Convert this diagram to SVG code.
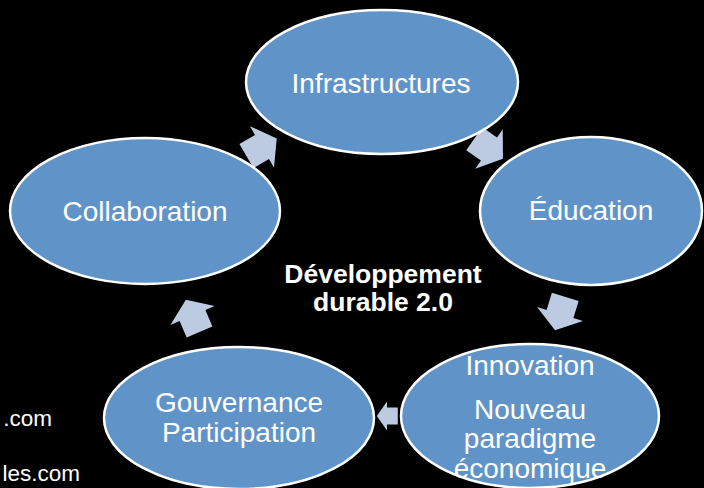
<svg xmlns="http://www.w3.org/2000/svg" width="704" height="488" viewBox="0 0 704 488">
<style>
.node ellipse{fill:#6094c8;stroke:#ffffff;stroke-width:2.5}
.lbl{font-family:"Liberation Sans",Arial,sans-serif;font-size:28px;fill:#ffffff;text-anchor:middle}
.arr{fill:#bccbe2}
.ctr{font-family:"Liberation Sans",Arial,sans-serif;font-size:26.5px;font-weight:bold;fill:#ffffff;text-anchor:middle}
.side{font-family:"Liberation Sans",Arial,sans-serif;font-size:22.5px;fill:#ffffff;text-anchor:end}
</style>
<defs>
<polygon id="blk" points="-18,-14 0,-14 0,-24 17,0 0,24 0,14 -18,14"/>
</defs>
<rect width="704" height="488" fill="#000000"/>
<text class="side" x="52" y="426">.com</text>
<text class="side" x="80" y="481">les.com</text>
<g id="connectors">
<use href="#blk" class="arr" transform="translate(262,147) rotate(-30)"/>
<use href="#blk" class="arr" transform="translate(489,149) rotate(35)"/>
<use href="#blk" class="arr" transform="translate(560,314) rotate(107)"/>
<use href="#blk" class="arr" transform="translate(387,416) rotate(180) scale(0.6)"/>
<use href="#blk" class="arr" transform="translate(192.5,315.5) rotate(-113)"/>
</g>
<g id="infrastructures" class="node">
<ellipse cx="382" cy="82" rx="136" ry="72"/>
<text class="lbl" x="381" y="93">Infrastructures</text>
</g>
<g id="education" class="node">
<ellipse cx="591" cy="211" rx="111" ry="74"/>
<text class="lbl" x="591" y="220">Éducation</text>
</g>
<g id="innovation" class="node">
<ellipse cx="530" cy="416" rx="129" ry="72"/>
<text class="lbl" x="530" y="375">Innovation</text>
<text class="lbl" x="530" y="419">Nouveau</text>
<text class="lbl" x="530" y="448">paradigme</text>
<text class="lbl" x="530" y="478">économique</text>
</g>
<g id="gouvernance" class="node">
<ellipse cx="239" cy="418" rx="135" ry="71"/>
<text class="lbl" x="239" y="412">Gouvernance</text>
<text class="lbl" x="239" y="442">Participation</text>
</g>
<g id="collaboration" class="node">
<ellipse cx="145" cy="211" rx="135" ry="73"/>
<text class="lbl" x="145" y="221">Collaboration</text>
</g>
<g id="center">
<text class="ctr" x="383" y="283">Développement</text>
<text class="ctr" x="383" y="311">durable 2.0</text>
</g>
</svg>
